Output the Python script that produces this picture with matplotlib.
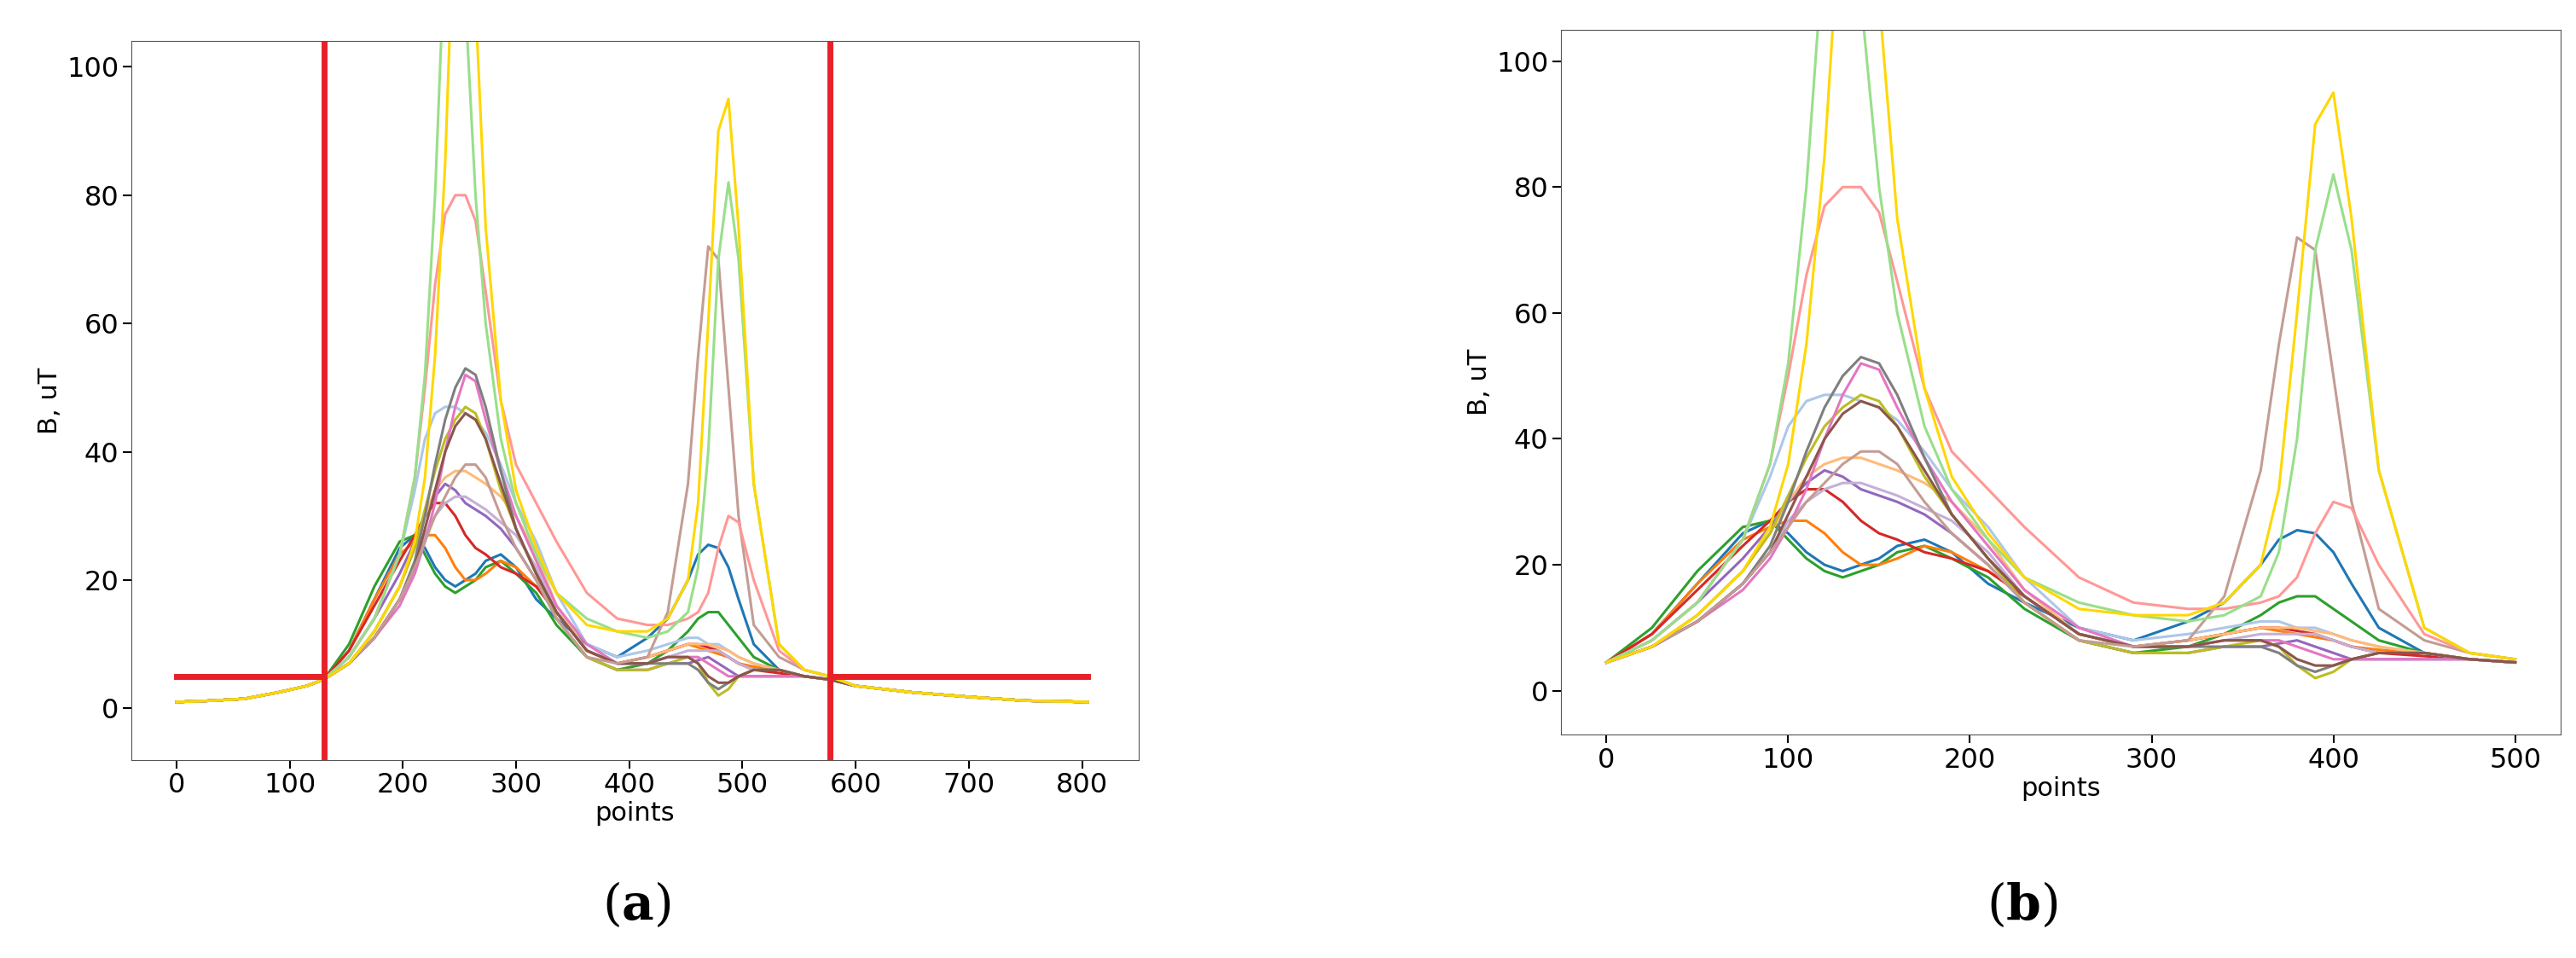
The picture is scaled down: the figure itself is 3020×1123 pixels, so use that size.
import numpy as np
import matplotlib
matplotlib.use('Agg')
import matplotlib.pyplot as plt

plt.rcParams['mathtext.fontset'] = 'dejavuserif'

# sample positions in panel (b), points
X = [0, 25, 50, 75, 90, 100, 110, 120, 130, 140, 150, 160, 175, 190, 210,
     230, 260, 290, 320, 340, 360, 370, 380, 390, 400, 410, 425, 450, 475, 500]

yellow = [4.5, 7, 12, 19, 26, 36, 55, 85, 130, 160, 110, 75, 48, 34, 25, 18, 13, 12, 12, 14, 20, 32, 60, 90, 95, 75, 35, 10, 6, 5]
lightgreen = [4.5, 8, 14, 24, 36, 52, 80, 120, 140, 110, 80, 60, 42, 32, 24, 18, 14, 12, 11, 12, 15, 22, 40, 70, 82, 70, 35, 10, 6, 5]
salmon = [4.5, 8, 14, 24, 36, 50, 66, 77, 80, 80, 76, 65, 48, 38, 32, 26, 18, 14, 13, 13, 14, 15, 18, 25, 30, 29, 20, 9, 6, 5]
tan = [4.5, 7, 11, 17, 22, 26, 30, 33, 36, 38, 38, 36, 30, 25, 20, 14, 8, 7, 8, 15, 35, 55, 72, 70, 50, 30, 13, 8, 6, 5]
blue = [4.5, 9, 17, 25, 27, 25, 22, 20, 19, 20, 21, 23, 24, 22, 17, 14, 10, 8, 11, 14, 20, 24, 25.5, 25, 22, 17, 10, 6, 5, 4.5]
green = [4.5, 10, 19, 26, 27, 24, 21, 19, 18, 19, 20, 22, 23, 21, 18, 13, 8, 6, 7, 9, 12, 14, 15, 15, 13, 11, 8, 6, 5, 4.5]
orange = [4.5, 9, 17, 24, 26, 27, 27, 25, 22, 20, 20, 21, 23, 22, 19, 15, 9, 7, 8, 9, 10, 9.5, 9, 8.5, 8, 7, 6.5, 6, 5, 4.5]
red = [4.5, 9, 16, 23, 27, 30, 32, 32, 30, 27, 25, 24, 22, 21, 19, 15, 9, 7, 8, 9, 10, 10, 9.5, 9, 8, 7, 6, 5.5, 5, 4.5]
purple = [4.5, 8, 14, 21, 26, 30, 33, 35, 34, 32, 31, 30, 28, 25, 20, 14, 8, 6, 6, 7, 7, 7.5, 8, 7, 6, 5, 5, 5, 5, 4.5]
lightblue = [4.5, 8, 14, 24, 34, 42, 46, 47, 47, 46, 45, 43, 38, 32, 26, 18, 10, 8, 9, 10, 11, 11, 10, 10, 9, 8, 7, 6, 5, 4.5]
lightorange = [4.5, 7, 12, 19, 25, 30, 34, 36, 37, 37, 36, 35, 33, 30, 24, 16, 9, 7, 8, 9, 10, 10, 10, 9.5, 9, 8, 7, 6, 5, 4.5]
olive = [4.5, 7, 12, 19, 25, 31, 37, 42, 45, 47, 46, 42, 34, 28, 21, 14, 8, 6, 6, 7, 8, 7, 4, 2, 3, 5, 6, 6, 5, 4.5]
grey = [4.5, 7, 11, 17, 23, 30, 38, 45, 50, 53, 52, 47, 37, 28, 21, 15, 9, 7, 7, 7, 7, 6, 4, 3, 4, 5, 6, 6, 5, 4.5]
brown = [4.5, 7, 11, 17, 22, 28, 34, 40, 44, 46, 45, 42, 35, 28, 21, 15, 9, 7, 7, 8, 8, 7, 5, 4, 4, 5, 6, 6, 5, 4.5]
pink = [4.5, 7, 11, 16, 21, 26, 32, 40, 47, 52, 51, 45, 37, 30, 23, 16, 10, 7, 7, 8, 8, 8, 7, 6, 5, 5, 5, 5, 5, 4.5]
lightpurple = [4.5, 7, 11, 17, 22, 27, 30, 32, 33, 33, 32, 31, 29, 27, 22, 15, 9, 7, 7, 8, 9, 9, 9, 9, 8, 7, 6, 6, 5, 4.5]

curves = [
    (blue, '#1f77b4'), (green, '#2ca02c'), (orange, '#ff7f0e'), (red, '#d62728'),
    (purple, '#9467bd'), (lightblue, '#aec7e8'), (lightorange, '#ffbb78'),
    (lightpurple, '#c5b0d5'), (olive, '#bcbd22'), (pink, '#e377c2'),
    (grey, '#7f7f7f'), (brown, '#8c564b'), (tan, '#c49c94'),
    (salmon, '#ff9896'), (lightgreen, '#98df8a'), (yellow, '#ffd700'),
]

# flat tails outside the cut window in panel (a)
tail_left_x = [0, 30, 60, 90, 115]
tail_left_y = [1.0, 1.2, 1.5, 2.5, 3.5]
tail_right_x = [600, 650, 700, 750, 805]
tail_right_y = [3.5, 2.5, 1.8, 1.2, 1.0]
cut_start, cut_end = 130, 577
threshold = 5

fig = plt.figure(figsize=(30.2, 11.23), dpi=100)
ax_a = fig.add_axes([0.051, 0.207, 0.391, 0.75])
ax_b = fig.add_axes([0.606, 0.233, 0.388, 0.736])

scale = (cut_end - cut_start) / 500
xa = [cut_start + v * scale for v in X]
for ys, c in curves:
    ax_a.plot(tail_left_x + xa + tail_right_x, tail_left_y + ys + tail_right_y,
              color=c, lw=2.2)
    ax_b.plot(X, ys, color=c, lw=2.2)

red_c = '#e8202a'
ax_a.axvline(cut_start, color=red_c, lw=5)
ax_a.axvline(cut_end, color=red_c, lw=5)
ax_a.plot([0, cut_start], [threshold, threshold], color=red_c, lw=5)
ax_a.plot([cut_end, 805], [threshold, threshold], color=red_c, lw=5)

ax_a.set_xlim(-40, 850)
ax_a.set_ylim(-8, 104)
ax_a.set_xticks(range(0, 801, 100))
ax_b.set_xlim(-25, 525)
ax_b.set_ylim(-7, 105)
ax_b.set_xticks(range(0, 501, 100))

for ax in (ax_a, ax_b):
    ax.set_yticks(range(0, 101, 20))
    ax.tick_params(labelsize=23, length=7, width=1.5)
    ax.set_xlabel('points', fontsize=22, labelpad=2)
    ax.set_ylabel('B, uT', fontsize=22)
    for s in ax.spines.values():
        s.set_color('#555555')

fig.text(0.247, 0.055, r'($\mathbf{a}$)', fontsize=42, ha='center', va='center',
         family='serif')
fig.text(0.785, 0.055, r'($\mathbf{b}$)', fontsize=42, ha='center', va='center',
         family='serif')

fig.savefig('out.png', dpi=100)
